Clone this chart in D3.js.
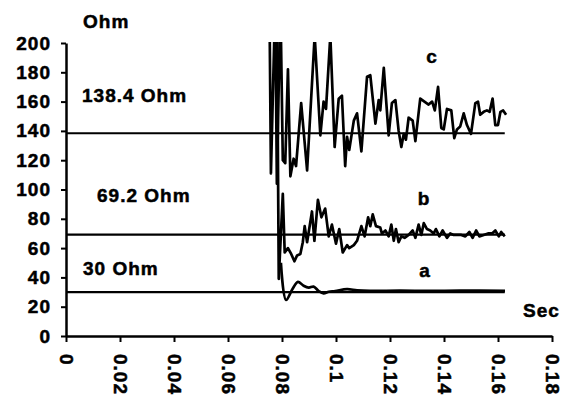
<!DOCTYPE html>
<html>
<head>
<meta charset="utf-8">
<script src="https://cdn.jsdelivr.net/npm/d3@7"></script>
<style>
    body { margin: 0; background: #fff; }
    svg text {
        font-family: Arial, "Liberation Sans", sans-serif;
        font-weight: bold;
        font-size: 19px;
        letter-spacing: 1px;
        fill: #000;
        stroke: #000;
        stroke-width: 0.5px;
    }
</style>
</head>
<body>
<svg id="chart" width="579" height="398"></svg>
<script>
// curve a (30 Ohm)
var timeA = [0.0796, 0.0815, 0.0840, 0.0859, 0.0880, 0.0899, 0.0917, 0.0936, 0.0954, 0.0973, 0.0997, 0.1041, 0.1078, 0.1126, 0.1237, 0.1348, 0.1459, 0.1626];
var ohmA = [50, 24.6, 32.5, 37, 34.3, 33, 33.7, 30.7, 29.1, 30.2, 30.7, 32, 31.2, 30.8, 31, 30.8, 31, 30.8];

// curve b (69.2 Ohm)
var timeB = [0.0781, 0.0788, 0.0803, 0.0810, 0.0822, 0.0834, 0.0846, 0.0856, 0.0868, 0.0877, 0.0884, 0.0893, 0.0911, 0.0920, 0.0933, 0.0946, 0.0960, 0.0973, 0.0985, 0.1000,
    0.1012, 0.1025, 0.1041, 0.1049, 0.1066, 0.1078, 0.1094, 0.1106, 0.1119, 0.1127, 0.1136, 0.1148, 0.1164, 0.1170, 0.1183, 0.1195, 0.1205, 0.1214, 0.1222, 0.1232,
    0.1242, 0.1254, 0.1269, 0.1284, 0.1294, 0.1306, 0.1316, 0.1325, 0.1337, 0.1349, 0.1362, 0.1370, 0.1383, 0.1395, 0.1411, 0.1423, 0.1436, 0.1448, 0.1464, 0.1479,
    0.1494, 0.1506, 0.1519, 0.1531, 0.1547, 0.1563, 0.1578, 0.1590, 0.1603, 0.1612, 0.1625];
var ohmB = [230, 39, 97, 57, 60, 56, 51, 55, 56, 64, 75, 64, 85, 65, 93, 81, 87, 68, 76, 63,
    73, 57, 62, 60, 62, 65, 75, 68, 81, 75, 83, 75, 74, 70, 72, 68, 76, 65, 73, 64,
    68, 67, 69, 72, 67, 76, 69, 77, 73, 72, 70, 73, 68, 72, 67, 70, 69, 69, 69, 68,
    71, 67, 72, 68, 69, 70, 70, 72, 68, 71, 68];

// curve c (138.4 Ohm)
var timeC = [0.0752, 0.0759, 0.0775, 0.0781, 0.0794, 0.0803, 0.0812, 0.0822, 0.0831, 0.0843, 0.0852, 0.0871, 0.0893, 0.0921, 0.0942, 0.0954, 0.0963, 0.0979, 0.0995, 0.1010,
    0.1022, 0.1034, 0.1041, 0.1049, 0.1066, 0.1078, 0.1094, 0.1115, 0.1127, 0.1146, 0.1158, 0.1164, 0.1177, 0.1195, 0.1207, 0.1220, 0.1232, 0.1242, 0.1251, 0.1259,
    0.1269, 0.1284, 0.1294, 0.1312, 0.1343, 0.1356, 0.1366, 0.1378, 0.1390, 0.1399, 0.1411, 0.1427, 0.1438, 0.1448, 0.1460, 0.1473, 0.1485, 0.1500, 0.1516, 0.1526,
    0.1534, 0.1547, 0.1559, 0.1569, 0.1580, 0.1590, 0.1600, 0.1609, 0.1619, 0.1630];
var ohmC = [260, 111, 230, 104, 230, 120, 118, 182, 109, 121, 116, 159, 113, 205, 137, 160, 155, 205, 129, 162,
    164, 116, 136, 127, 147, 152, 126, 177, 178, 145, 161, 154, 183, 137, 159, 161, 140, 129, 138, 134,
    149, 147, 133, 162, 158, 160, 154, 170, 142, 141, 155, 154, 135, 141, 143, 152, 144, 138, 159, 160,
    151, 153, 154, 153, 162, 144, 144, 153, 154, 151];

var refValues = [138.4, 69.2, 30];
var refLabels = ["138.4 Ohm", "69.2 Ohm", "30 Ohm"];
var refEnd = 0.1625;
var curveNames = ["a", "b", "c"];

var xTicks = [0, 0.02, 0.04, 0.06, 0.08, 0.1, 0.12, 0.14, 0.16, 0.18];
var yTicks = [0, 20, 40, 60, 80, 100, 120, 140, 160, 180, 200];

var svg = d3.select("#chart");

var x = d3.scaleLinear().domain([0, 0.18]).range([66, 552]);
var y = d3.scaleLinear().domain([0, 200]).range([336, 43]);

// clip so the spikes stop at 200
svg.append("clipPath").attr("id", "plot-clip")
    .append("rect")
    .attr("x", x(0)).attr("y", y(200) - 1)
    .attr("width", x(0.18) - x(0)).attr("height", y(0) - y(200) + 1);

// horizontal reference lines
svg.selectAll(".ref")
    .data(refValues)
    .enter().append("line")
    .attr("class", "ref")
    .attr("x1", x(0)).attr("x2", x(refEnd))
    .attr("y1", function(d) { return y(d); })
    .attr("y2", function(d) { return y(d); })
    .attr("stroke", "#000")
    .attr("stroke-width", 2.2);

var line = d3.line()
    .x(function(d) { return x(d[0]); })
    .y(function(d) { return y(d[1]); });

var curves = [
    { pts: d3.zip(timeA, ohmA), smooth: true },
    { pts: d3.zip(timeB, ohmB), smooth: false },
    { pts: d3.zip(timeC, ohmC), smooth: false }
];

svg.append("g")
    .attr("clip-path", "url(#plot-clip)")
    .selectAll("path")
    .data(curves)
    .enter().append("path")
    .attr("d", function(d) {
        return line.curve(d.smooth ? d3.curveCatmullRom : d3.curveLinear)(d.pts);
    })
    .attr("fill", "none")
    .attr("stroke", "#000")
    .attr("stroke-width", 2.7)
    .attr("stroke-linejoin", "round");

// axes
var yAxis = svg.append("g")
    .attr("transform", "translate(" + x(0) + ",0)")
    .call(d3.axisLeft(y).tickValues(yTicks).tickSize(5).tickSizeOuter(0).tickPadding(10));

var xAxis = svg.append("g")
    .attr("transform", "translate(0," + y(0) + ")")
    .call(d3.axisBottom(x).tickValues(xTicks).tickSize(6).tickSizeOuter(0).tickFormat(d3.format("")));

xAxis.selectAll("text")
    .attr("transform", "rotate(90)")
    .attr("x", 18)
    .attr("y", 0)
    .attr("dy", "0.34em")
    .style("text-anchor", "start");

[xAxis, yAxis].forEach(function(ax) {
    ax.select(".domain").attr("stroke-width", 2.5);
    ax.selectAll(".tick line").attr("stroke-width", 2);
    ax.selectAll("text").attr("font-size", null).attr("font-family", null).attr("fill", "#000");
});

// axis titles
svg.append("text").attr("x", 83).attr("y", 28).text("Ohm");
svg.append("text").attr("x", 523).attr("y", 317).text("Sec");

// reference labels
var refLabelPos = [[82, 102], [97, 202], [83, 275]];
svg.selectAll(".ref-label")
    .data(refLabels)
    .enter().append("text")
    .attr("class", "ref-label")
    .attr("x", function(d, i) { return refLabelPos[i][0]; })
    .attr("y", function(d, i) { return refLabelPos[i][1]; })
    .text(function(d) { return d; });

// curve names
var namePos = [[425, 277], [424, 205], [432, 63]];
svg.selectAll(".curve-name")
    .data(curveNames)
    .enter().append("text")
    .attr("class", "curve-name")
    .attr("x", function(d, i) { return namePos[i][0]; })
    .attr("y", function(d, i) { return namePos[i][1]; })
    .attr("text-anchor", "middle")
    .text(function(d) { return d; });
</script>
</body>
</html>
